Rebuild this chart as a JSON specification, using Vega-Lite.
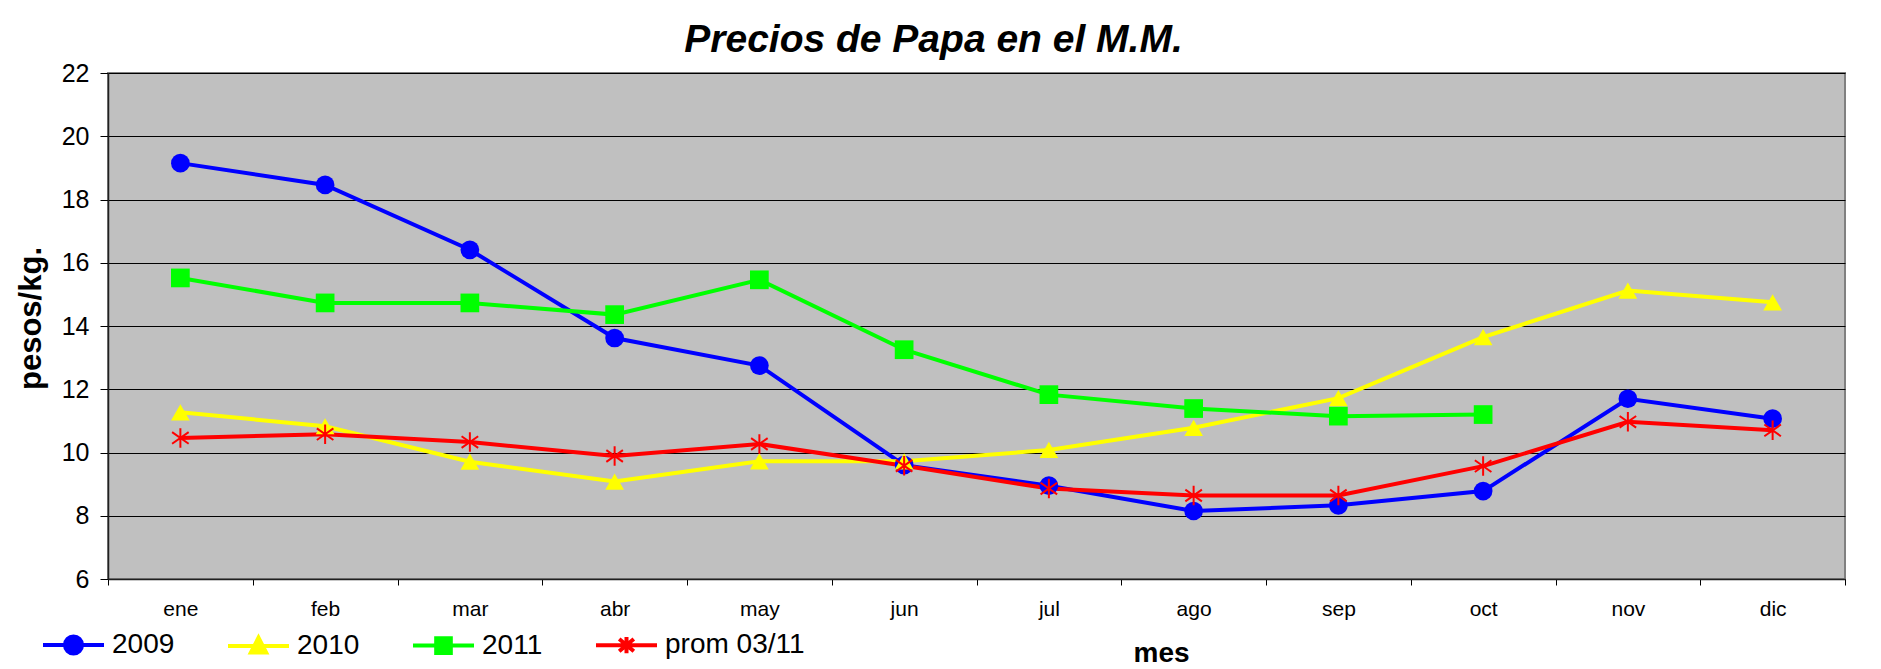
{
  "$schema": "https://vega.github.io/schema/vega-lite/v6.json",
  "width": 1737,
  "height": 506,
  "autosize": {"type": "none"},
  "padding": {"left": 108, "top": 73, "right": 36, "bottom": 90},
  "background": "white",
  "title": {
    "text": "Precios de Papa en el M.M.",
    "font": "Liberation Sans",
    "fontSize": 39,
    "fontWeight": "bold",
    "fontStyle": "italic",
    "color": "black",
    "anchor": "middle",
    "frame": "group",
    "dx": -43,
    "dy": 50,
    "baseline": "alphabetic",
    "offset": 20
  },
  "config": {
    "view": {"fill": "#C0C0C0", "stroke": "#808080", "strokeWidth": 2},
    "font": "Liberation Sans"
  },
  "data": {
    "values": [
      {"mes": "ene", "serie": "2009", "precio": 19.15},
      {"mes": "feb", "serie": "2009", "precio": 18.46},
      {"mes": "mar", "serie": "2009", "precio": 16.41},
      {"mes": "abr", "serie": "2009", "precio": 13.62},
      {"mes": "may", "serie": "2009", "precio": 12.75},
      {"mes": "jun", "serie": "2009", "precio": 9.6},
      {"mes": "jul", "serie": "2009", "precio": 8.95},
      {"mes": "ago", "serie": "2009", "precio": 8.15},
      {"mes": "sep", "serie": "2009", "precio": 8.33},
      {"mes": "oct", "serie": "2009", "precio": 8.78},
      {"mes": "nov", "serie": "2009", "precio": 11.7},
      {"mes": "dic", "serie": "2009", "precio": 11.07},
      {"mes": "ene", "serie": "2010", "precio": 11.27},
      {"mes": "feb", "serie": "2010", "precio": 10.83},
      {"mes": "mar", "serie": "2010", "precio": 9.71},
      {"mes": "abr", "serie": "2010", "precio": 9.08},
      {"mes": "may", "serie": "2010", "precio": 9.72},
      {"mes": "jun", "serie": "2010", "precio": 9.72},
      {"mes": "jul", "serie": "2010", "precio": 10.08},
      {"mes": "ago", "serie": "2010", "precio": 10.78},
      {"mes": "sep", "serie": "2010", "precio": 11.72},
      {"mes": "oct", "serie": "2010", "precio": 13.65},
      {"mes": "nov", "serie": "2010", "precio": 15.12},
      {"mes": "dic", "serie": "2010", "precio": 14.75},
      {"mes": "ene", "serie": "2011", "precio": 15.52},
      {"mes": "feb", "serie": "2011", "precio": 14.73},
      {"mes": "mar", "serie": "2011", "precio": 14.73},
      {"mes": "abr", "serie": "2011", "precio": 14.36},
      {"mes": "may", "serie": "2011", "precio": 15.46},
      {"mes": "jun", "serie": "2011", "precio": 13.25},
      {"mes": "jul", "serie": "2011", "precio": 11.83},
      {"mes": "ago", "serie": "2011", "precio": 11.39},
      {"mes": "sep", "serie": "2011", "precio": 11.15},
      {"mes": "oct", "serie": "2011", "precio": 11.2},
      {"mes": "ene", "serie": "prom 03/11", "precio": 10.46},
      {"mes": "feb", "serie": "prom 03/11", "precio": 10.58},
      {"mes": "mar", "serie": "prom 03/11", "precio": 10.33},
      {"mes": "abr", "serie": "prom 03/11", "precio": 9.89},
      {"mes": "may", "serie": "prom 03/11", "precio": 10.27},
      {"mes": "jun", "serie": "prom 03/11", "precio": 9.58},
      {"mes": "jul", "serie": "prom 03/11", "precio": 8.86},
      {"mes": "ago", "serie": "prom 03/11", "precio": 8.64},
      {"mes": "sep", "serie": "prom 03/11", "precio": 8.64},
      {"mes": "oct", "serie": "prom 03/11", "precio": 9.57},
      {"mes": "nov", "serie": "prom 03/11", "precio": 10.97},
      {"mes": "dic", "serie": "prom 03/11", "precio": 10.7}
    ]
  },
  "encoding": {
    "x": {
      "field": "mes",
      "type": "ordinal",
      "sort": ["ene", "feb", "mar", "abr", "may", "jun", "jul", "ago", "sep", "oct", "nov", "dic"],
      "scale": {"type": "band", "paddingInner": 0, "paddingOuter": 0},
      "axis": {
        "title": "mes",
        "titleFont": "Liberation Sans",
        "titleFontSize": 28,
        "titleFontWeight": "bold",
        "titleColor": "black",
        "titleX": 1053,
        "titleY": 82,
        "titleAlign": "center",
        "titleBaseline": "alphabetic",
        "labelFont": "Liberation Sans",
        "labelFontSize": 21,
        "labelColor": "black",
        "labelAngle": 0,
        "labelPadding": 13,
        "tickBand": "extent",
        "tickSize": 6,
        "tickColor": "black",
        "domainColor": "#202020",
        "domainWidth": 1.5,
        "grid": false
      }
    },
    "y": {
      "field": "precio",
      "type": "quantitative",
      "scale": {"domain": [6, 22], "nice": false, "zero": false},
      "axis": {
        "title": "pesos/kg.",
        "titleFont": "Liberation Sans",
        "titleFontSize": 31,
        "titleFontWeight": "bold",
        "titleColor": "black",
        "titleX": -77,
        "titleY": 245,
        "titleBaseline": "middle",
        "titleAlign": "center",
        "titleAngle": -90,
        "values": [6, 8, 10, 12, 14, 16, 18, 20, 22],
        "labelFont": "Liberation Sans",
        "labelFontSize": 25,
        "labelColor": "black",
        "labelPadding": 11,
        "tickSize": 8,
        "tickColor": "black",
        "domainColor": "#202020",
        "domainWidth": 1.5,
        "grid": true,
        "gridColor": "black",
        "gridWidth": 1
      }
    },
    "color": {
      "field": "serie",
      "type": "nominal",
      "scale": {
        "domain": ["2009", "2010", "2011", "prom 03/11"],
        "range": ["#0000FF", "#FFFF00", "#00FF00", "#FF0000"]
      },
      "legend": {
        "orient": "none",
        "direction": "horizontal",
        "legendX": -67,
        "legendY": 539,
        "title": null,
        "padding": 0,
        "symbolSize": 3721,
        "symbolOffset": 0,
        "labelOffset": 6,
        "columnPadding": 45,
        "labelFont": "Liberation Sans",
        "labelFontSize": 28,
        "labelColor": "black",
        "encode": {
          "symbols": {
            "update": {
              "shape": {"signal": "datum.value === '2009' ? 'M-1,0H1M-0.28,0A0.28,0.28 0 1,0 0.28,0A0.28,0.28 0 1,0 -0.28,0Z' : datum.value === '2010' ? 'M-1,0H1M0,-0.27L0.25,0.22L-0.25,0.22Z' : datum.value === '2011' ? 'M-1,0H1M-0.24,-0.24H0.24V0.24H-0.24Z' : 'M-1,0H1M0,-0.27V0.27M-0.24,-0.2L0.24,0.2M-0.24,0.2L0.24,-0.2'"},
              "fill": {"scale": "color", "field": "value"},
              "stroke": {"scale": "color", "field": "value"},
              "strokeWidth": {"value": 4},
              "size": {"value": 3721},
              "opacity": {"value": 1}
            }
          }
        }
      }
    }
  },
  "layer": [
    {
      "mark": {"type": "line", "strokeWidth": 4}
    },
    {
      "transform": [{"filter": "datum.serie !== 'prom 03/11'"}],
      "mark": {"type": "point", "filled": true, "opacity": 1, "size": 350},
      "encoding": {
        "shape": {
          "field": "serie",
          "type": "nominal",
          "scale": {
            "domain": ["2009", "2010", "2011"],
            "range": ["circle", "triangle-up", "square"]
          },
          "legend": null
        }
      }
    },
    {
      "transform": [{"filter": "datum.serie === 'prom 03/11'"}],
      "mark": {
        "type": "point",
        "filled": false,
        "opacity": 1,
        "size": 380,
        "strokeWidth": 2,
        "shape": "M0,-1V1M-0.85,-0.6L0.85,0.6M-0.85,0.6L0.85,-0.6"
      }
    }
  ]
}
